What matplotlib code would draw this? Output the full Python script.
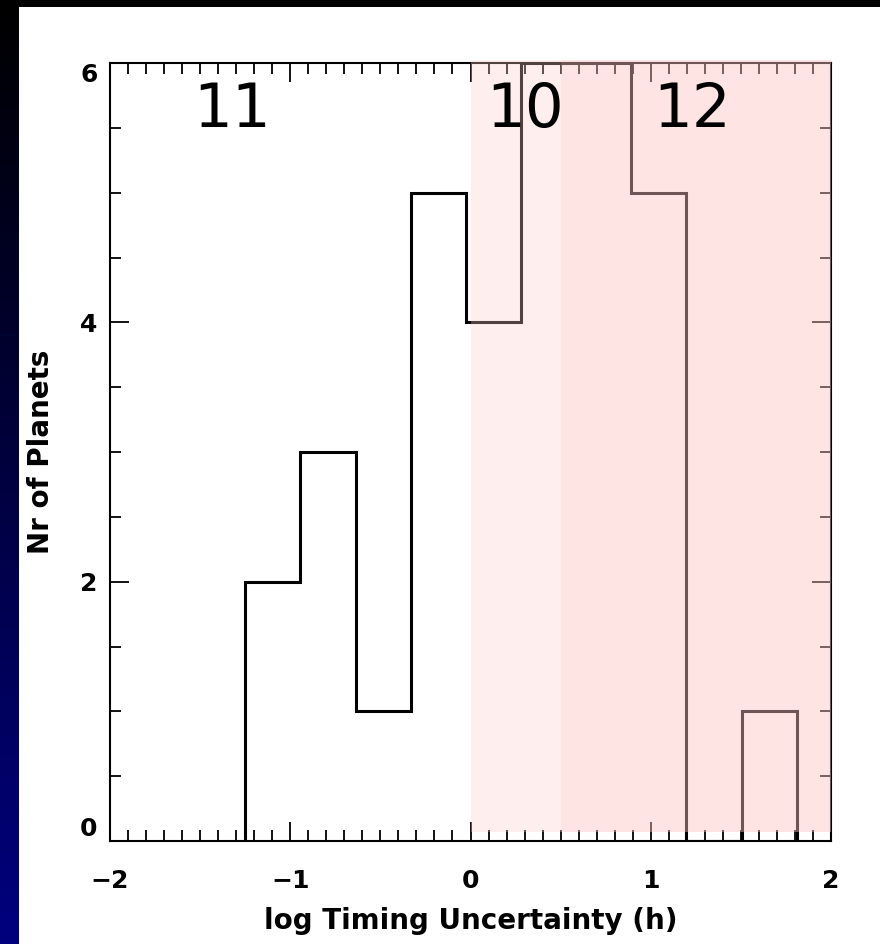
import numpy as np
import matplotlib
matplotlib.use("Agg")
import matplotlib.pyplot as plt
from matplotlib.patches import Rectangle
from matplotlib.ticker import MultipleLocator

# histogram of log timing uncertainty
bin_edges = [-1.25, -0.944, -0.638, -0.332, -0.026, 0.28, 0.586, 0.892, 1.198, 1.504, 1.81]
counts = [2, 3, 1, 5, 4, 6, 6, 5, 0, 1]

# shaded regions (x from, x to, y from, y to) and their tints
regions = [(0.0, 0.5, 0.07, 6.02), (0.5, 2.0, 0.07, 6.02)]
region_colors = [(1.0, 0.80, 0.80), (1.0, 0.76, 0.76)]
region_alpha = [0.32, 0.44]

# group counts written on top
group_labels = ["11", "10", "12"]
group_x = [-1.32, 0.30, 1.23]
group_y = 5.63

fig = plt.figure(figsize=(8.8, 9.44), dpi=100, facecolor="white")

# dark slide background strips
left = fig.add_axes([0, 0, 18 / 880, 1])
grad = np.linspace(0, 1, 256).reshape(-1, 1)
cmap = matplotlib.colors.LinearSegmentedColormap.from_list("bg", ["#000000", "#00007e"])
left.imshow(grad, aspect="auto", cmap=cmap, extent=[0, 1, 1, 0])
left.axis("off")
top = fig.add_axes([0, 1 - 7 / 944, 1, 7 / 944])
top.set_facecolor("black")
top.set_xticks([])
top.set_yticks([])
for s in top.spines.values():
    s.set_visible(False)

ax = fig.add_axes([110 / 880, 103 / 944, 721 / 880, 778 / 944])
ax.stairs(counts, bin_edges, color="black", linewidth=2.2, zorder=2)

for (x0, x1, y0, y1), c, a in zip(regions, region_colors, region_alpha):
    ax.add_patch(Rectangle((x0, y0), x1 - x0, y1 - y0, facecolor=c, alpha=a,
                           edgecolor="none", zorder=3, clip_on=False))

for lab, x in zip(group_labels, group_x):
    ax.text(x, group_y, lab, fontsize=44, ha="center", va="center", color="black", zorder=4)

ax.set_xlim(-2, 2)
ax.set_ylim(0, 6)
ax.set_xticks([-2, -1, 0, 1, 2])
ax.set_xticklabels(["\u22122", "\u22121", "0", "1", "2"])
ax.set_yticks([0, 2, 4, 6])
ax.xaxis.set_minor_locator(MultipleLocator(0.1))
ax.yaxis.set_minor_locator(MultipleLocator(0.5))
ax.tick_params(which="both", direction="in", top=True, right=True, width=1.3)
ax.tick_params(which="major", length=14, labelsize=18)
ax.tick_params(which="minor", length=8)
ax.tick_params(axis="x", which="major", pad=20)
ax.tick_params(axis="y", which="major", pad=9)
for lab in ax.get_xticklabels() + ax.get_yticklabels():
    lab.set_fontweight("bold")
# end labels kept inside the axis range, as in the original
ylabs = ax.get_yticklabels()
ylabs[0].set_verticalalignment("bottom")
ylabs[-1].set_verticalalignment("top")
for s in ax.spines.values():
    s.set_linewidth(1.5)

ax.set_xlabel("log Timing Uncertainty (h)", fontsize=20, fontweight="bold", labelpad=10)
ax.set_ylabel("Nr of Planets", fontsize=20, fontweight="bold", labelpad=18)

fig.savefig("out.png", dpi=100, facecolor=fig.get_facecolor())
